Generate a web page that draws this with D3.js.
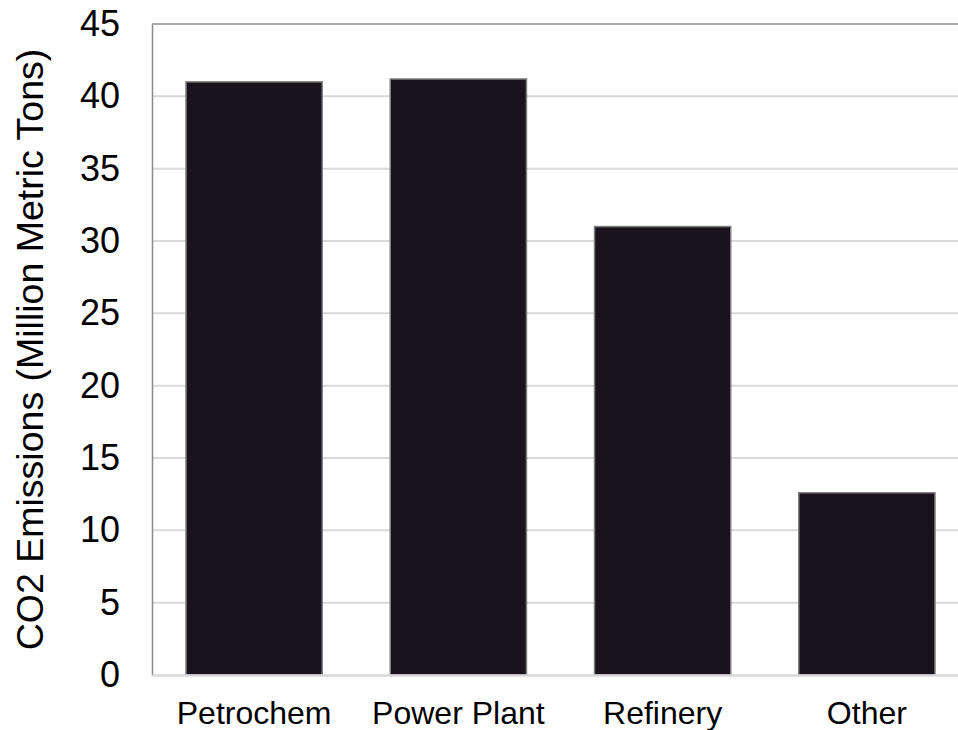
<!DOCTYPE html>
<html>
<head>
<meta charset="utf-8">
<script src="https://cdn.jsdelivr.net/npm/d3@7"></script>
<style>
  body { margin: 0; background: #fff; }
  svg { display: block; font-family: "Liberation Sans", Arial, sans-serif; }
</style>
</head>
<body>
<div id="chart"></div>
<script>
// chart data
const categories = ["Petrochem", "Power Plant", "Refinery", "Other"]
const emissions = [41.0, 41.2, 31.0, 12.6]
const yTicks = [0, 5, 10, 15, 20, 25, 30, 35, 40, 45]
const yTitle = "CO2 Emissions (Million Metric Tons)"

const width = 958,
    height = 730

// plot area runs past the right edge, like the original
const plot = { left: 152, top: 24, right: 969, bottom: 675 }

const svg = d3.select("#chart")
  .append("svg")
    .attr("width", width)
    .attr("height", height)

const x = d3.scaleBand()
  .domain(categories)
  .range([plot.left, plot.right])
  .paddingInner(0.333)
  .paddingOuter(0.1665)

const y = d3.scaleLinear()
  .domain([0, 45])
  .range([plot.bottom, plot.top])

// gridlines
svg.append("g")
  .selectAll("line")
  .data(yTicks.filter(d => d > 0 && d < 45))
  .join("line")
    .attr("x1", plot.left)
    .attr("x2", plot.right)
    .attr("y1", d => y(d))
    .attr("y2", d => y(d))
    .attr("stroke", "#d9d9d9")
    .attr("stroke-width", 2)

// top border
svg.append("line")
  .attr("x1", plot.left).attr("x2", plot.right)
  .attr("y1", y(45)).attr("y2", y(45))
  .attr("stroke", "#8c8c8c")
  .attr("stroke-width", 1.5)

// bars
svg.append("g")
  .selectAll("rect")
  .data(emissions)
  .join("rect")
    .attr("x", (d, i) => x(categories[i]))
    .attr("y", d => y(d))
    .attr("width", x.bandwidth())
    .attr("height", d => y(0) - y(d))
    .attr("fill", "#19141c")
    .attr("stroke", "#7f7f7f")
    .attr("stroke-width", 1.5)

// y axis
const yAxis = svg.append("g")
  .attr("transform", `translate(${plot.left},0)`)
  .call(d3.axisLeft(y).tickValues(yTicks).tickSize(0).tickPadding(32))
yAxis.select(".domain").attr("stroke", "#8c8c8c").attr("stroke-width", 1.5)
yAxis.selectAll("text")
  .attr("font-size", 36)
  .attr("fill", "#000")
  .attr("font-family", "Liberation Sans, Arial, sans-serif")

// x axis
const xAxis = svg.append("g")
  .attr("transform", `translate(0,${plot.bottom})`)
  .call(d3.axisBottom(x).tickSize(0).tickPadding(26))
xAxis.select(".domain").attr("stroke", "#d9d9d9").attr("stroke-width", 2.5)
xAxis.selectAll("text")
  .attr("font-size", 32)
  .attr("fill", "#000")
  .attr("font-family", "Liberation Sans, Arial, sans-serif")

// y title
svg.append("text")
  .attr("transform", `translate(43,${(plot.top + plot.bottom) / 2}) rotate(-90)`)
  .attr("text-anchor", "middle")
  .attr("font-size", 37.5)
  .attr("fill", "#000")
  .text(yTitle)
</script>
</body>
</html>
